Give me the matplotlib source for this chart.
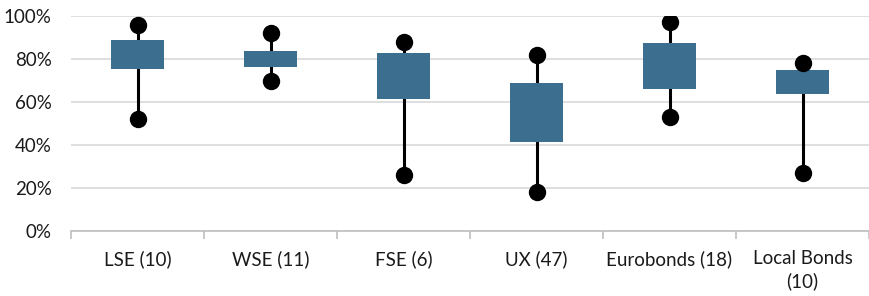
import numpy as np
import matplotlib
matplotlib.use('Agg')
import matplotlib.pyplot as plt
from matplotlib.ticker import FixedLocator, PercentFormatter

# Data (percent)
categories = ['LSE (10)', 'WSE (11)', 'FSE (6)', 'UX (47)', 'Eurobonds (18)', 'Local Bonds\n(10)']
low = [52, 70, 26, 18, 53, 27]
q1 = [75.5, 76.5, 61.5, 41.5, 66, 63.5]
q3 = [89, 83.5, 83, 69, 87.5, 75]
high = [96, 92, 88, 82, 97, 78]

plt.rcParams['font.family'] = ['Lato', 'DejaVu Sans']

fig = plt.figure(figsize=(8.69, 2.96), dpi=100)
ax = fig.add_axes([71 / 869, 65 / 296, 798 / 869, 215 / 296])

x = np.arange(len(categories))
box_color = '#3b6e8f'

# whiskers (min to max), then boxes on top
ax.vlines(x, low, high, color='black', linewidth=2.2, zorder=2)
ax.bar(x, np.array(q3) - np.array(q1), bottom=q1, width=0.4, color=box_color, zorder=3)
ax.plot(x, high, 'o', color='black', markersize=11.5, zorder=4)
ax.plot(x, low, 'o', color='black', markersize=11.5, zorder=4)

ax.set_xlim(-0.5, len(categories) - 0.5)
ax.set_ylim(0, 100)
ax.set_yticks(np.arange(0, 101, 20))
ax.yaxis.set_major_formatter(PercentFormatter(decimals=0))
ax.grid(axis='y', color='#d9d9d9', linewidth=1.2, zorder=0)
ax.set_axisbelow(True)

ax.set_xticks(x)
ax.set_xticklabels(categories, fontsize=13.5, color='#1a1a1a', linespacing=1.3)
ax.xaxis.set_minor_locator(FixedLocator(np.arange(-0.5, len(categories), 1.0)))
ax.tick_params(axis='x', which='major', length=0, pad=14)
ax.tick_params(axis='x', which='minor', length=6, color='#bfbfbf', width=1.2, direction='out')
ax.tick_params(axis='y', length=0, pad=14, labelsize=13.5, labelcolor='#1a1a1a')

for side in ['top', 'right', 'left']:
    ax.spines[side].set_visible(False)
ax.spines['bottom'].set_color('#bfbfbf')
ax.spines['bottom'].set_linewidth(1.2)

fig.savefig('out.png', dpi=100)
